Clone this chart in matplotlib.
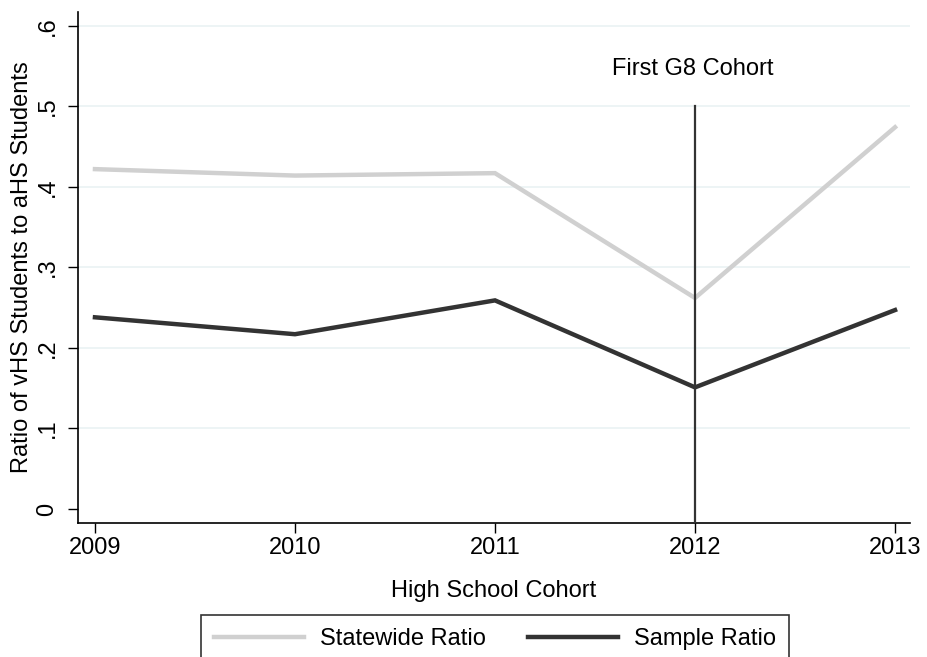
import numpy as np
import matplotlib.pyplot as plt

plt.rcParams["font.family"] = ["Liberation Sans", "DejaVu Sans"]

# ── Data ─────────────────────────────────────────────────────────────────────
cohorts   = [2009, 2010, 2011, 2012, 2013]
statewide = [0.422, 0.414, 0.417, 0.262, 0.474]
sample    = [0.238, 0.217, 0.259, 0.151, 0.247]
y_ticks   = [0, 0.1, 0.2, 0.3, 0.4, 0.5, 0.6]
y_labels  = ["0", ".1", ".2", ".3", ".4", ".5", ".6"]
g8_year   = 2012

FS = 17

# ── Plot ─────────────────────────────────────────────────────────────────────
fig = plt.figure(figsize=(9.27, 6.57), dpi=100)
ax = fig.add_axes([0.0841, 0.204, 0.8976, 0.7776])

ax.set_xlim(2008.915, 2013.075)
ax.set_ylim(-0.0174, 0.617)

for yv in y_ticks[1:]:
    ax.axhline(yv, color="#EAF2F3", lw=1.2, zorder=0)

ax.plot(cohorts, statewide, color="#D0D0D0", lw=3.2, label="Statewide Ratio",
        solid_joinstyle="miter", zorder=2)
ax.plot(cohorts, sample, color="#333333", lw=3.2, label="Sample Ratio",
        solid_joinstyle="miter", zorder=3)
ax.plot([g8_year, g8_year], [-0.0174, 0.5], color="#333333", lw=1.6, zorder=4)
ax.text(g8_year - 0.01, 0.546, "First G8 Cohort", ha="center", va="center",
        fontsize=FS)

ax.set_xticks(cohorts)
ax.set_xticklabels([str(c) for c in cohorts], fontsize=FS)
ax.set_yticks(y_ticks)
ax.set_yticklabels(y_labels, fontsize=FS, rotation=90, va="center")
ax.tick_params(direction="out", length=7, width=1, color="black")
ax.tick_params(axis="x", pad=3)
ax.tick_params(axis="y", pad=7)

for side in ("top", "right"):
    ax.spines[side].set_visible(False)
for side in ("left", "bottom"):
    ax.spines[side].set_linewidth(1.2)

ax.set_xlabel("High School Cohort", fontsize=FS, labelpad=15)
ax.set_ylabel("Ratio of vHS Students to aHS Students", fontsize=FS)
ax.yaxis.set_label_coords(-0.054, 0.5)

leg = fig.legend(loc="upper left", bbox_to_anchor=(0.2168, 0.0639),
                 ncol=2, frameon=True, fancybox=False,
                 edgecolor="black", fontsize=FS, handlelength=3.8,
                 borderpad=0.55, borderaxespad=0, columnspacing=1.8,
                 handletextpad=0.68)
leg.get_frame().set_linewidth(1.2)

plt.savefig("out.png", dpi=100)
